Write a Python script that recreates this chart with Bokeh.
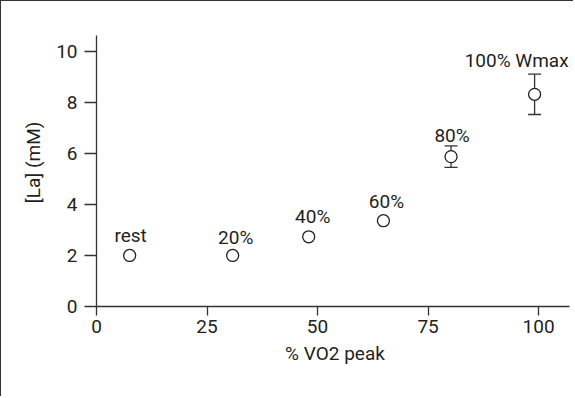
from bokeh.plotting import figure
from bokeh.models import ColumnDataSource, Range1d, Whisker, TeeHead, FixedTicker
from bokeh.core.properties import value
from bokeh.embed import file_html
from bokeh.resources import INLINE

# ---- data ----
vo2_peak = [7.5, 30.8, 48.0, 64.9, 80.2, 99.1]
lactate = [2.0, 2.0, 2.73, 3.36, 5.87, 8.31]
lactate_err = [0.0, 0.0, 0.0, 0.0, 0.42, 0.79]
point_labels = ["rest", "20%", "40%", "60%", "80%", "100% Wmax"]
x_ticks = [0, 25, 50, 75, 100]
y_ticks = [0, 2, 4, 6, 8, 10]

# ---- layout-only offsets for the point labels (pixels) ----
label_dx = [1, 3, 4, 3, 1, -18]
label_dy = [-20, -18, -20, -19, -21, -34]

FONT = "Roboto"
FS = "19px"
TEXT = "#231f20"
LINE = "#333333"

p = figure(width=573, height=396, output_backend="svg", toolbar_location=None,
           x_range=Range1d(0, 107.9), y_range=Range1d(0, 11.28),
           min_border_left=95, min_border_right=1, min_border_top=17, min_border_bottom=91)
p.styles = {"border-left": "1.3px solid #333333", "border-top": "1.3px solid #333333"}
p.outline_line_color = None
p.grid.visible = False
p.background_fill_color = "white"
p.border_fill_color = "white"

for ax in (p.xaxis[0], p.yaxis[0]):
    ax.axis_line_color = LINE
    ax.axis_line_width = 1.3
    ax.major_tick_line_color = LINE
    ax.major_tick_line_width = 1.3
    ax.major_tick_in = 0
    ax.minor_tick_line_color = None
    ax.major_label_text_font = FONT
    ax.major_label_text_font_size = FS
    ax.major_label_text_color = TEXT
    ax.axis_label_text_font = FONT
    ax.axis_label_text_font_size = FS
    ax.axis_label_text_font_style = "normal"
    ax.axis_label_text_color = TEXT

p.xaxis.ticker = FixedTicker(ticks=x_ticks)
p.yaxis.ticker = FixedTicker(ticks=y_ticks)
p.xaxis.bounds = (0, 107)
p.yaxis.bounds = (0, 10.6)
p.xaxis.major_tick_out = 9
p.yaxis.major_tick_out = 12
p.xaxis.major_label_standoff = 4
p.yaxis.major_label_standoff = 7
p.xaxis.axis_label = "% VO2 peak"
p.yaxis.axis_label = "[La] (mM)"
p.xaxis.axis_label_standoff = 6
p.yaxis.axis_label_standoff = 8

src = ColumnDataSource(dict(x=vo2_peak, y=lactate, lab=point_labels, dx=label_dx, dy=label_dy))

ex = [x for x, e in zip(vo2_peak, lactate_err) if e > 0]
ey_lo = [y - e for y, e in zip(lactate, lactate_err) if e > 0]
ey_hi = [y + e for y, e in zip(lactate, lactate_err) if e > 0]
err_src = ColumnDataSource(dict(x=ex, lower=ey_lo, upper=ey_hi))
w = Whisker(source=err_src, base="x", lower="lower", upper="upper", dimension="height",
            line_color=LINE, line_width=1.3,
            upper_head=TeeHead(size=13, line_color=LINE, line_width=1.3),
            lower_head=TeeHead(size=13, line_color=LINE, line_width=1.3))
p.add_layout(w)

p.scatter("x", "y", source=src, marker="circle", size=12, fill_color="white",
          line_color=TEXT, line_width=1.3)

p.text("x", "y", text="lab", source=src, x_offset="dx", y_offset="dy",
       text_align="center", text_baseline="alphabetic",
       text_font=value(FONT), text_font_size=FS, text_color=TEXT)

open("out.html", "w").write(file_html(p, INLINE))
